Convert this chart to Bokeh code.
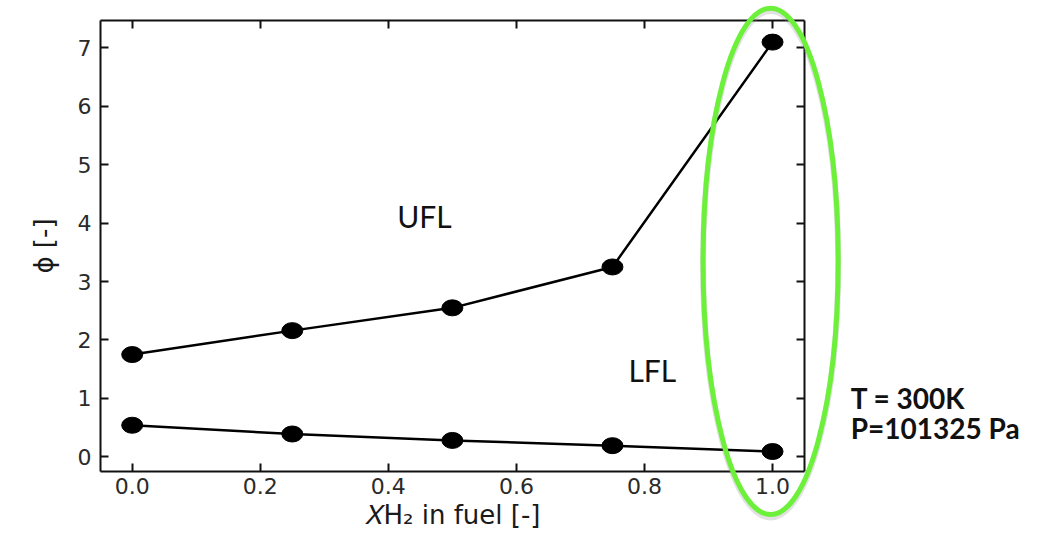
from bokeh.plotting import figure
from bokeh.layouts import column
from bokeh.models import (Range1d, FixedTicker, LinearAxis, Label,
                          NumeralTickFormatter, ColumnDataSource)
from bokeh.embed import file_html
from bokeh.resources import INLINE

# ---- data ----
x_h2 = [0.0, 0.25, 0.5, 0.75, 1.0]
ufl = [1.75, 2.16, 2.55, 3.25, 7.10]
lfl = [0.54, 0.39, 0.28, 0.19, 0.09]
x_ticks = [0.0, 0.2, 0.4, 0.6, 0.8, 1.0]
y_ticks = [0, 1, 2, 3, 4, 5, 6, 7]
x_label = "𝑋H₂ in fuel [-]"
y_label = "ϕ [-]"
note_lines = ["T = 300K", "P=101325 Pa"]

AX_FONT = "DejaVu Sans"
TXT_FONT = "Lato"

# ---- layout constants (pixels) ----
W, H = 1030, 535
BL, BT, BR, BB = 100, 20, 226, 64
X0, X1 = -0.0495, 1.0499
Y0, Y1 = -0.252, 7.47

p = figure(width=W, height=H, output_backend="svg", toolbar_location=None,
           x_range=Range1d(X0, X1), y_range=Range1d(Y0, Y1),
           min_border_left=BL, min_border_top=BT, min_border_right=BR,
           min_border_bottom=BB, frame_align=False)
p.background_fill_color = "white"
p.border_fill_color = "white"
p.outline_line_color = None
p.xgrid.visible = False
p.ygrid.visible = False


def style_axis(ax, ticks, labels=True):
    ax.ticker = FixedTicker(ticks=ticks)
    ax.axis_line_width = 2
    ax.axis_line_color = "#111111"
    ax.major_tick_line_width = 2
    ax.major_tick_line_color = "#111111"
    ax.major_tick_in = 8
    ax.major_tick_out = 0
    ax.minor_tick_line_color = None
    if labels:
        ax.major_label_text_font = AX_FONT
        ax.major_label_text_font_size = "22px"
        ax.major_label_text_color = "#2a2a2a"
        ax.major_label_standoff = 6
        ax.axis_label_text_font = AX_FONT
        ax.axis_label_text_font_size = "26px"
        ax.axis_label_text_font_style = "normal"
        ax.axis_label_text_color = "#1a1a1a"
        ax.axis_label_standoff = 3
    else:
        ax.major_label_text_font_size = "10px"
        ax.major_label_text_color = None
        ax.major_label_standoff = 0


style_axis(p.xaxis[0], x_ticks)
p.xaxis[0].formatter = NumeralTickFormatter(format="0.0")
p.xaxis[0].axis_label = x_label
style_axis(p.yaxis[0], y_ticks)
p.yaxis[0].axis_label = y_label
p.yaxis[0].major_label_standoff = 9
p.yaxis[0].axis_label_standoff = 16

top = LinearAxis()
style_axis(top, x_ticks, labels=False)
p.add_layout(top, "above")
right = LinearAxis()
style_axis(right, y_ticks, labels=False)
p.add_layout(right, "right")

src = ColumnDataSource(dict(x=x_h2, ufl=ufl, lfl=lfl))
for col in ["ufl", "lfl"]:
    p.line(x="x", y=col, source=src, line_color="black", line_width=2.5)
    p.ellipse(x="x", y=col, source=src, width=21, height=16,
              width_units="screen", height_units="screen",
              fill_color="black", line_color="black")

# region labels
p.add_layout(Label(x=0.414, y=3.82, text="UFL", text_font=TXT_FONT,
                   text_font_size="30px", text_color="#111111"))
p.add_layout(Label(x=0.775, y=1.17, text="LFL", text_font=TXT_FONT,
                   text_font_size="30px", text_color="#111111"))

# ---- transparent overlay covering the whole canvas, same data mapping ----
ppx = (W - BL - BR) / (X1 - X0)
ppy = (H - BT - BB) / (Y1 - Y0)
ov = figure(width=W, height=H, output_backend="svg", toolbar_location=None,
            x_axis_location=None, y_axis_location=None,
            x_range=Range1d(X0 - BL / ppx, X1 + BR / ppx),
            y_range=Range1d(Y0 - BB / ppy, Y1 + BT / ppy),
            min_border_left=0, min_border_right=0, min_border_top=0,
            min_border_bottom=0, margin=(-H, 0, 0, 0), frame_align=False)
ov.background_fill_alpha = 0
ov.border_fill_alpha = 0
ov.outline_line_color = None
ov.grid.visible = False

# highlight ellipse around x = 1.0 (with a faint shadow)
cx, cy, ew, eh = 0.997, 3.346, 0.211, 8.67
ov.ellipse(x=[cx], y=[cy - 0.05], width=[ew], height=[eh], fill_color=None,
           line_color="#888888", line_alpha=0.25, line_width=6)
ov.ellipse(x=[cx], y=[cy], width=[ew], height=[eh], fill_color=None,
           line_color="#6CF03A", line_width=5)

# conditions note
ov.add_layout(Label(x=1.122, y=0.72, text=note_lines[0], text_font=TXT_FONT,
                    text_font_size="28px", text_font_style="bold",
                    text_color="#111111"))
ov.add_layout(Label(x=1.122, y=0.21, text=note_lines[1], text_font=TXT_FONT,
                    text_font_size="28px", text_font_style="bold",
                    text_color="#111111"))

layout = column(p, ov, spacing=0)
open("out.html", "w").write(file_html(layout, INLINE))
